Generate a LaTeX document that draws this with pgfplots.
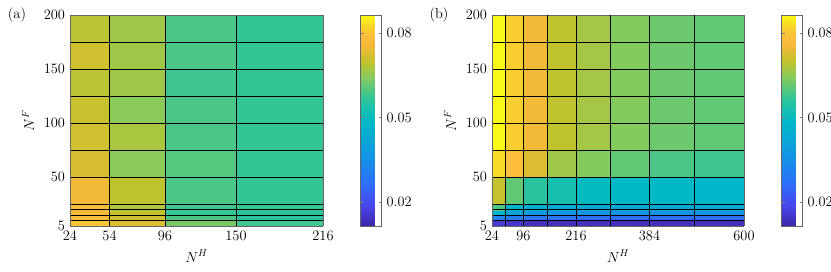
\documentclass[border=0pt]{standalone}
\usepackage{pgfplots}
\pgfplotsset{compat=1.18}
\pgfplotsset{colormap={parula}{
rgb255(0pt)=(62,38,168)
rgb255(10pt)=(71,72,238)
rgb255(20pt)=(45,110,250)
rgb255(30pt)=(25,140,235)
rgb255(40pt)=(10,165,215)
rgb255(50pt)=(0,185,198)
rgb255(60pt)=(45,196,155)
rgb255(70pt)=(130,203,95)
rgb255(78pt)=(195,195,45)
rgb255(85pt)=(240,185,55)
rgb255(90pt)=(253,190,60)
rgb255(95pt)=(248,215,40)
rgb255(100pt)=(249,251,20)}}
\pgfplotsset{
 hm/.style={
  view={0}{90},
  scale only axis,
  height=211pt,
  anchor=south west,
  colormap name=parula,
  point meta min=0.0116, point meta max=0.0863,
  ymin=5, ymax=200,
  ytick={5,50,100,150,200},
  extra y ticks={10,15,20,25,75,125,175},
  extra y tick labels={},
  grid=major,
  major grid style={black, line width=0.6pt},
  major tick length=0pt,
  axis on top,
  axis line style={gray!80!black},
  xlabel={$N^H$}, ylabel={$N^F$},
  colorbar,
  colorbar style={
    at={(parent axis.north east)}, anchor=north west,
    xshift=29pt, width=21pt, height=211pt,
    ytick={0.02,0.05,0.08},
    scaled ticks=false,
    yticklabel style={/pgf/number format/fixed, /pgf/number format/precision=2, /pgf/number format/fixed zerofill},
    major tick length=3pt,
    major tick style={gray},
    axis line style={gray!80!black},
  },
 }
}
\begin{document}
\fontsize{14.4}{17}\selectfont
\begin{tikzpicture}[font=\fontsize{14.4}{17}\selectfont]
\begin{axis}[hm, at={(70pt,45pt)}, width=253pt,
  xmin=24, xmax=216, xtick={24,54,96,150,216}]
\addplot3[surf, shader=flat corner, mesh/cols=5, point meta=explicit]
 table[x=x, y=y, z=z, meta=c] {
x y z c
24 5 0 0.080
54 5 0 0.073
96 5 0 0.063
150 5 0 0.058
216 5 0 0.058
24 10 0 0.078
54 10 0 0.071
96 10 0 0.059
150 10 0 0.056
216 10 0 0.056
24 15 0 0.077
54 15 0 0.070
96 15 0 0.057
150 15 0 0.056
216 15 0 0.056
24 20 0 0.077
54 20 0 0.068
96 20 0 0.058
150 20 0 0.057
216 20 0 0.057
24 25 0 0.076
54 25 0 0.0695
96 25 0 0.059
150 25 0 0.057
216 25 0 0.057
24 50 0 0.0725
54 50 0 0.0645
96 50 0 0.060
150 50 0 0.057
216 50 0 0.057
24 75 0 0.0715
54 75 0 0.0675
96 75 0 0.059
150 75 0 0.057
216 75 0 0.057
24 100 0 0.0705
54 100 0 0.0645
96 100 0 0.059
150 100 0 0.057
216 100 0 0.057
24 125 0 0.069
54 125 0 0.0665
96 125 0 0.058
150 125 0 0.057
216 125 0 0.057
24 150 0 0.0715
54 150 0 0.0665
96 150 0 0.059
150 150 0 0.057
216 150 0 0.057
24 175 0 0.069
54 175 0 0.0665
96 175 0 0.059
150 175 0 0.057
216 175 0 0.057
24 200 0 0.069
54 200 0 0.0665
96 200 0 0.059
150 200 0 0.057
216 200 0 0.057
};
\end{axis}
\begin{axis}[hm, at={(492pt,45pt)}, width=252pt,
  xmin=24, xmax=600, xtick={24,96,216,384,600},
  extra x ticks={54,150,294,486}, extra x tick labels={}]
\addplot3[surf, shader=flat corner, mesh/cols=9, point meta=explicit]
 table[x=x, y=y, z=z, meta=c] {
x y z c
24 5 0 0.016
54 5 0 0.015
96 5 0 0.014
150 5 0 0.014
216 5 0 0.014
294 5 0 0.014
384 5 0 0.014
486 5 0 0.014
600 5 0 0.014
24 10 0 0.032
54 10 0 0.030
96 10 0 0.028
150 10 0 0.028
216 10 0 0.027
294 10 0 0.027
384 10 0 0.027
486 10 0 0.027
600 10 0 0.027
24 15 0 0.047
54 15 0 0.040
96 15 0 0.038
150 15 0 0.037
216 15 0 0.036
294 15 0 0.036
384 15 0 0.036
486 15 0 0.036
600 15 0 0.036
24 20 0 0.059
54 20 0 0.047
96 20 0 0.044
150 20 0 0.043
216 20 0 0.042
294 20 0 0.042
384 20 0 0.042
486 20 0 0.042
600 20 0 0.042
24 25 0 0.070
54 25 0 0.061
96 25 0 0.056
150 25 0 0.053
216 25 0 0.050
294 25 0 0.049
384 25 0 0.049
486 25 0 0.048
600 25 0 0.048
24 50 0 0.083
54 50 0 0.079
96 50 0 0.073
150 50 0 0.0665
216 50 0 0.064
294 50 0 0.061
384 50 0 0.059
486 50 0 0.058
600 50 0 0.058
24 75 0 0.086
54 75 0 0.081
96 75 0 0.076
150 75 0 0.0695
216 75 0 0.067
294 75 0 0.064
384 75 0 0.062
486 75 0 0.061
600 75 0 0.061
24 100 0 0.086
54 100 0 0.081
96 100 0 0.076
150 100 0 0.0695
216 100 0 0.067
294 100 0 0.064
384 100 0 0.062
486 100 0 0.061
600 100 0 0.061
24 125 0 0.086
54 125 0 0.081
96 125 0 0.076
150 125 0 0.0695
216 125 0 0.067
294 125 0 0.064
384 125 0 0.062
486 125 0 0.061
600 125 0 0.061
24 150 0 0.086
54 150 0 0.081
96 150 0 0.076
150 150 0 0.0695
216 150 0 0.067
294 150 0 0.064
384 150 0 0.062
486 150 0 0.061
600 150 0 0.061
24 175 0 0.086
54 175 0 0.081
96 175 0 0.076
150 175 0 0.0695
216 175 0 0.067
294 175 0 0.064
384 175 0 0.062
486 175 0 0.061
600 175 0 0.061
24 200 0 0.086
54 200 0 0.081
96 200 0 0.076
150 200 0 0.0695
216 200 0 0.067
294 200 0 0.064
384 200 0 0.062
486 200 0 0.061
600 200 0 0.061
};
\end{axis}
\node at (17pt,256pt) {(a)};
\node at (439pt,256pt) {(b)};
\pgfresetboundingbox
\path[use as bounding box] (0pt,0pt) rectangle (831pt,271pt);
\end{tikzpicture}
\end{document}
